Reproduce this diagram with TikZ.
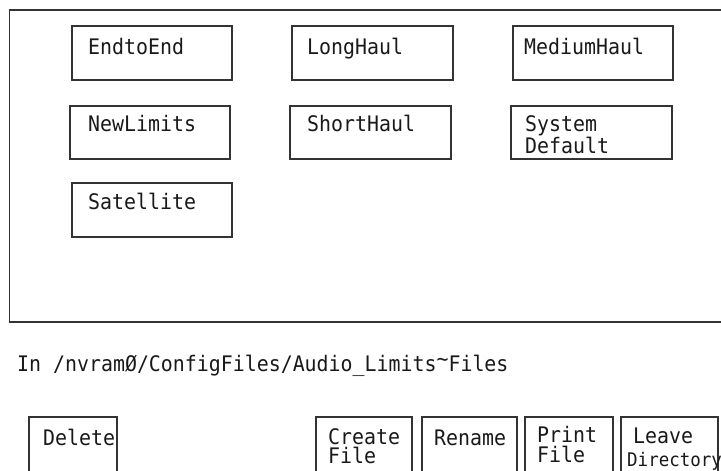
\documentclass[tikz,border=0pt]{standalone}
\usepackage{fontspec}
\newfontfamily\panelfont[FakeStretch=0.93]{DejaVu Sans Mono}
\newcommand\twolines[2]{\vtop{\baselineskip=19.5pt\hbox{#1}\hbox{#2}}}
\newcommand\hightilde{\raisebox{4.5pt}{\textasciitilde}}
\begin{document}
\begin{tikzpicture}[x=1pt,y=-1pt,
  frame/.style={draw=black!80, line width=1.3pt},
  filebox/.style={draw=black!80, line width=1.1pt, rectangle, anchor=north west,
    inner sep=0pt, outer sep=0pt, minimum width=#1, minimum height=54pt},
  filebox/.default=160pt,
  keybox/.style={draw=black!80, line width=1.1pt, rectangle, anchor=north west,
    inner sep=0pt, outer sep=0pt, minimum width=#1, minimum height=70pt},
  lbl/.style={anchor=base west, inner sep=0pt, text=black!90,
    font=\panelfont\fontsize{21.4}{21}\selectfont},
  small/.style={lbl, font=\panelfont\fontsize{18.8}{19}\selectfont}]
\useasboundingbox (0,0) rectangle (721,471);
\clip (0,0) rectangle (721,471);
\draw[frame] (9.5,10) rectangle (735,322);

% file selection area
\node[filebox] (e2e) at (72,26) {};
\node[filebox=161pt] (long) at (292,26) {};
\node[filebox] (med) at (513,26) {};
\node[filebox, minimum height=53pt] (newl) at (70,106) {};
\node[filebox=161pt, minimum height=53pt] (short) at (290,106) {};
\node[filebox=161pt, minimum height=53pt] (sysd) at (511,106) {};
\node[filebox] (sat) at (72,183) {};

\node[lbl] (te2e) at (88,54) {EndtoEnd};
\node[lbl] (tlong) at (307,54) {LongHaul};
\node[lbl] (tmed) at (524,54) {MediumHaul};
\node[lbl] (tnewl) at (88,131) {NewLimits};
\node[lbl] (tshort) at (307,131) {ShortHaul};
\node[lbl] (tsysd) at (525,131.5) {\twolines{System}{Default}};
\node[lbl] (tsat) at (88,209) {Satellite};

% current directory
\node[lbl] (path) at (17,371) {In /nvramØ/ConfigFiles/Audio\_Limits\hightilde Files};

% soft keys
\node[keybox=88pt] (kdel) at (29,417) {};
\node[keybox=96pt] (kcre) at (316,417) {};
\node[keybox=95pt] (kren) at (422,417) {};
\node[keybox=88pt] (kprt) at (525,417) {};
\node[keybox=97pt] (klea) at (621,417) {};

\node[lbl] (tdel) at (43,445) {Delete};
\node[lbl] (tcre) at (328,444) {\twolines{Create}{File}};
\node[lbl] (tren) at (434,445) {Rename};
\node[lbl] (tprt) at (537,442.5) {\twolines{Print}{File}};
\node[lbl] (tlea) at (633,443.5) {Leave};
\node[small] (tdir) at (627,466.7) {Directory};
\end{tikzpicture}
\end{document}
